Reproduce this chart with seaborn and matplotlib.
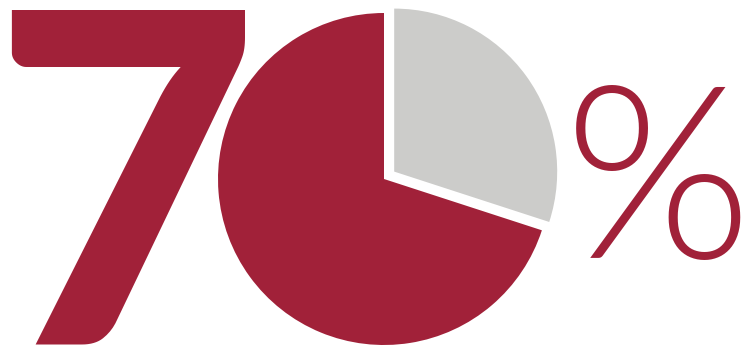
import matplotlib
matplotlib.use("Agg")
import matplotlib.pyplot as plt
import seaborn as sns

sns.set_theme(style="white")

# Data
labels = ["Yes", "No"]
values = [70, 30]
colors = ["#A12139", "#CCCCCA"]
big_digit = "7"
percent_sign = "%"

W, H = 742, 347
fig = plt.figure(figsize=(W / 100, H / 100), dpi=100)
ax = fig.add_axes([0, 0, 1, 1])

wedges, _ = ax.pie(values, colors=colors, startangle=90, counterclock=True,
                   center=(384, 168), radius=166, explode=[0, 12.6],
                   wedgeprops=dict(linewidth=0))
wedges[1].set_radius(163)

ax.text(125, 3, big_digit, ha="center", va="baseline", fontsize=332,
        family="Lato", fontweight="black", color=colors[0])
ax.text(658, 89, percent_sign, ha="center", va="baseline", fontsize=174,
        family="Lato", fontweight=350, color=colors[0])

ax.set_xlim(0, W)
ax.set_ylim(0, H)
ax.set_aspect("equal")
ax.axis("off")
fig.savefig("out.png", dpi=100, facecolor="white")
